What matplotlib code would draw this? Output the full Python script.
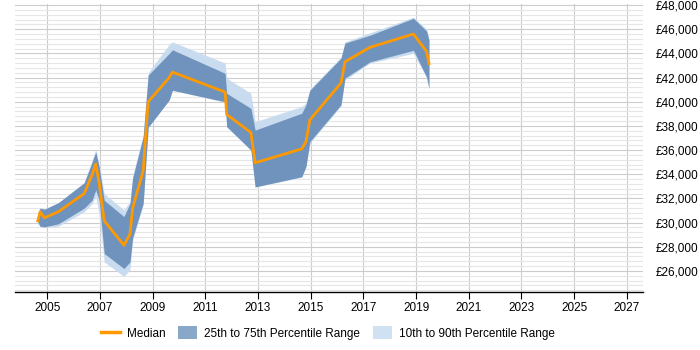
import matplotlib
matplotlib.use("Agg")
import matplotlib.pyplot as plt
from matplotlib.lines import Line2D
from matplotlib.patches import Patch
from matplotlib.ticker import FuncFormatter, MultipleLocator

plt.rcParams["font.family"] = ["Liberation Sans", "DejaVu Sans"]

# Decimal-year positions of the samples
years = [2004.64, 2004.73, 2004.89, 2005.42, 2006.40, 2006.70, 2006.84, 2006.97,
         2007.16, 2007.91, 2008.14, 2008.24, 2008.64, 2008.83, 2009.63, 2009.75,
         2011.75, 2011.81, 2012.73, 2012.89, 2014.66, 2014.82, 2014.97, 2016.15,
         2016.30, 2017.25, 2018.90, 2019.40, 2019.49]

median = [30150, 30900, 30400, 30900, 32400, 33950, 34850, 33250,
          30150, 28125, 29050, 31185, 34300, 40000, 42000, 42450,
          40800, 38950, 37450, 34950, 36100, 36700, 38500, 41550,
          43300, 44500, 45600, 44150, 43150]

p75 = [30700, 31200, 31100, 31650, 33300, 35000, 35850, 34600,
       31850, 30500, 31600, 33700, 37100, 42200, 44000, 44300,
       42350, 40700, 39450, 37650, 39050, 39750, 40950, 43600,
       44850, 45500, 46900, 45850, 45100]

p25 = [30050, 29700, 29650, 29900, 31200, 31850, 32700, 31850,
       27450, 26200, 26750, 28750, 31600, 37900, 40150, 40950,
       40000, 37950, 36000, 32950, 33800, 34650, 36700, 39750,
       41950, 43300, 44250, 42050, 41100]

p90 = [30800, 31250, 31150, 31650, 33300, 35150, 36100, 34700,
       32400, 31050, 31750, 33850, 37250, 42400, 44750, 44950,
       43200, 41950, 40700, 38350, 39600, 39900, 41050, 43700,
       44950, 45700, 47000, 46000, 45200]

p10 = [29900, 29650, 29600, 29700, 30900, 31550, 32200, 30650,
       26750, 25550, 26100, 28550, 31450, 37850, 40150, 40950,
       39950, 37900, 36000, 32950, 33750, 34600, 36600, 39650,
       41800, 43200, 44000, 41950, 41050]

x_ticks = list(range(2005, 2028, 2))

ORANGE = "#ff9900"
DARK = "#7093bd"
LIGHT = "#c9dcef"

fig = plt.figure(figsize=(7, 3.5), dpi=100)
ax = fig.add_axes([15 / 700, 1 - 292 / 350, 627.7 / 700, 288.2 / 350])

ax.fill_between(years, p10, p90, color=LIGHT, linewidth=0, zorder=2)
ax.fill_between(years, p25, p75, color=DARK, linewidth=0, zorder=3)
ax.plot(years, median, color=ORANGE, linewidth=2, zorder=4)

ax.set_xlim(2003.774, 2027.604)
ax.set_ylim(24262, 48100)

ax.set_xticks(x_ticks)
ax.set_xticklabels([str(y) for y in x_ticks])
ax.yaxis.set_major_locator(MultipleLocator(2000))
ax.yaxis.set_minor_locator(MultipleLocator(400))
ax.set_yticks([v for v in range(26000, 48001, 2000)])
ax.yaxis.set_major_formatter(FuncFormatter(lambda v, _: f"£{int(v):,}"))
ax.yaxis.tick_right()

ax.grid(axis="y", which="minor", color="#e6e6e6", linewidth=0.8, zorder=0)
ax.grid(axis="y", which="major", color="#cccccc", linewidth=0.8, zorder=0)
ax.grid(axis="x", which="major", color="#cccccc", linewidth=0.8, zorder=0)
ax.set_axisbelow(True)

for side in ("top", "right", "left"):
    ax.spines[side].set_visible(False)
ax.spines["bottom"].set_color("#000000")
ax.spines["bottom"].set_linewidth(1)
ax.tick_params(axis="x", colors="#000000", labelsize=8.5, length=5, width=0.8,
               pad=2)
ax.tick_params(axis="y", which="both", length=0, labelsize=8.5, pad=9,
               colors="#000000")

handles = [Line2D([], [], color=ORANGE, linewidth=2.5),
           Patch(facecolor="#89a7c9", edgecolor="none"),
           Patch(facecolor="#d0e1f1", edgecolor="none")]
labels = ["Median", "25th to 75th Percentile Range", "10th to 90th Percentile Range"]
fig.legend(handles, labels, loc="center", bbox_to_anchor=(328 / 700, 1 - 333 / 350),
           ncol=3, frameon=False, fontsize=8.5, handlelength=1.6,
           handleheight=1.2, columnspacing=1.1, handletextpad=0.6)

fig.savefig("out.png", dpi=100, facecolor="#ffffff")
